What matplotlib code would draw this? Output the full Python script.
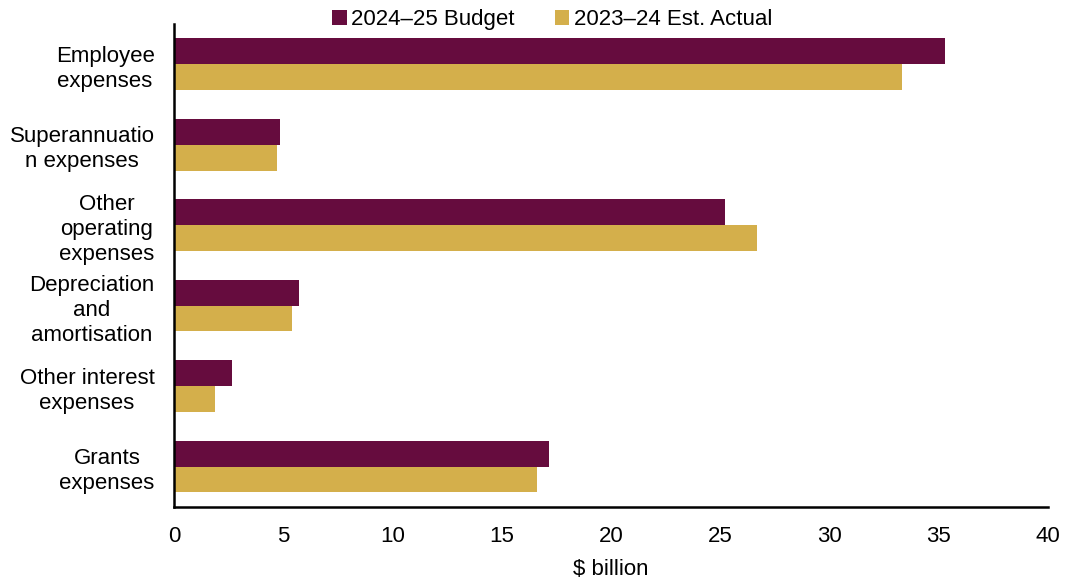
import numpy as np
import matplotlib.pyplot as plt

plt.rcParams['font.family'] = ['Liberation Sans', 'DejaVu Sans']

categories = ['Employee\nexpenses', 'Superannuatio\nn expenses', 'Other\noperating\nexpenses',
              'Depreciation\nand\namortisation', 'Other interest\nexpenses', 'Grants\nexpenses']
budget_2425 = [35.3, 4.85, 25.2, 5.7, 2.65, 17.15]
actual_2324 = [33.3, 4.7, 26.7, 5.4, 1.9, 16.6]
series_names = ['2024\u201325 Budget', '2023\u201324 Est. Actual']

maroon = '#660C3E'
gold = '#D4AF4B'
fs = 16

fig = plt.figure(figsize=(10.7, 5.81), dpi=100)
ax = fig.add_axes([0.1626, 0.1274, 0.8168, 0.8313])

y = np.arange(len(categories))
h = 0.32
ax.barh(y - h / 2, budget_2425, height=h, color=maroon, label=series_names[0])
ax.barh(y + h / 2, actual_2324, height=h, color=gold, label=series_names[1])

ax.set_ylim(len(categories) - 0.5, -0.5)
ax.set_xlim(0, 40)
ax.set_xticks(range(0, 41, 5))
ax.set_yticks(y)
ax.set_yticklabels(categories, multialignment='center', linespacing=1.26)
ax.tick_params(axis='both', length=0, labelsize=fs)
ax.tick_params(axis='x', pad=14)
ax.tick_params(axis='y', pad=14)

for s in ['top', 'right']:
    ax.spines[s].set_visible(False)
for s in ['left', 'bottom']:
    ax.spines[s].set_linewidth(1.8)
    ax.spines[s].set_color('black')

ax.set_xlabel('$ billion', fontsize=fs, labelpad=8)

fig.legend(loc='upper center', bbox_to_anchor=(0.516, 1.0), ncol=2, frameon=False,
           fontsize=fs, handlelength=0.65, handleheight=0.65, handletextpad=0.2,
           columnspacing=1.8, borderaxespad=0)

fig.savefig('out.png', dpi=100)
